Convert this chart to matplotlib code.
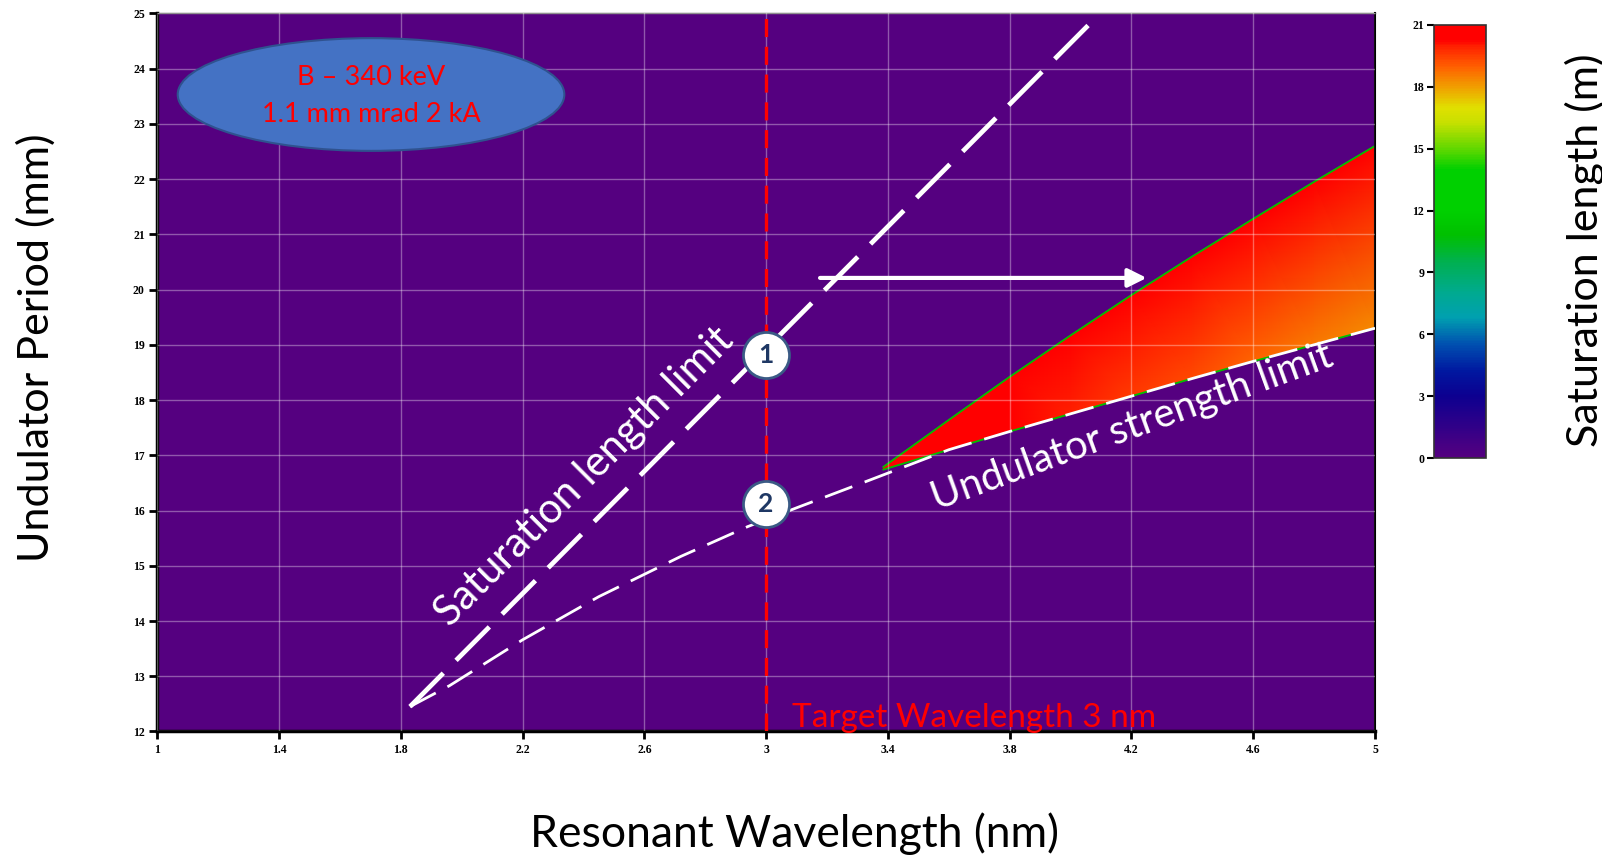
import numpy as np
import matplotlib
matplotlib.use("Agg")
import matplotlib.pyplot as plt
from matplotlib.colors import LinearSegmentedColormap
from matplotlib.patches import Ellipse
from matplotlib.tri import Triangulation
from matplotlib.cm import ScalarMappable
from matplotlib.colors import Normalize

plt.rcParams['font.family'] = ['Lato', 'DejaVu Sans']
plt.rcParams['lines.scale_dashes'] = False

# saturation length colour scale (m)
lsat_levels = [0, 1.5, 3.0, 4.2, 5.5, 6.8, 8.0, 9.5, 10.8, 12, 14, 15, 16.3, 17, 18, 19, 20, 20.3, 21]
lsat_colors = ['#550080', '#300088', '#0c0090', '#0018a0', '#0050b0', '#00a0b0', '#00aa90',
               '#00b050', '#00c000', '#00d000', '#00d000', '#60d800', '#c8e000', '#e0e000',
               '#f0a000', '#ff6000', '#ff2000', '#ff0000', '#ff0000']

# feasible region: wavelength (nm), period bounds (mm), saturation length on each bound (m)
wedge_wl = [3.385, 3.6, 3.8, 4.0, 4.2, 4.4, 4.6, 4.8, 5.0]
wedge_lo = [16.74, 17.1, 17.43, 17.75, 18.07, 18.39, 18.7, 19.0, 19.3]
wedge_hi = [16.79, 17.64, 18.42, 19.17, 19.9, 20.6, 21.28, 21.95, 22.6]
lsat_lo = [21.0, 20.7, 20.3, 20.0, 19.6, 19.3, 18.9, 18.6, 18.3]
lsat_hi = [21.0, 21.0, 21.0, 21.0, 21.0, 21.0, 21.0, 21.0, 21.0]

# limit lines
sat_limit_wl = [1.83, 4.09]
sat_limit_period = [12.45, 24.96]
strength_wl = [1.83, 1.96, 2.2, 2.45, 2.72, 2.94, 3.11, 3.34, 3.6, 3.8, 4.0, 4.2, 4.4, 4.6, 4.8, 5.0]
strength_period = [12.45, 12.83, 13.66, 14.44, 15.17, 15.71, 16.07, 16.55, 17.1, 17.43, 17.75,
                   18.07, 18.39, 18.7, 19.0, 19.3]

target_wl = 3.0
point_wl = [3.0, 3.0]
point_period = [18.82, 16.12]
point_labels = ['1', '2']
shift_start = (3.177, 20.21)
shift_end = (4.25, 20.21)

x_ticks = [1, 1.4, 1.8, 2.2, 2.6, 3, 3.4, 3.8, 4.2, 4.6, 5]
x_ticklabels = ['1', '1.4', '1.8', '2.2', '2.6', '3', '3.4', '3.8', '4.2', '4.6', '5']
y_ticks = list(range(12, 26))
cbar_ticks = [0, 3, 6, 9, 12, 15, 18, 21]

cmap = LinearSegmentedColormap.from_list(
    'lsat', [(v / 21.0, c) for v, c in zip(lsat_levels, lsat_colors)])
norm = Normalize(0, 21)

fig = plt.figure(figsize=(16.02, 8.58), dpi=100)
ax = fig.add_axes([0.0982, 0.14744, 0.76011, 0.83706])
ax.set_facecolor(cmap(0.0))

# shaded field between the two bounds
n = len(wedge_wl)
px = np.array(wedge_wl + wedge_wl)
py = np.array(wedge_lo + wedge_hi)
pv = np.array(lsat_lo + lsat_hi)
tris = []
for i in range(n - 1):
    tris.append([i, i + 1, n + i])
    tris.append([i + 1, n + i + 1, n + i])
tri = Triangulation(px, py, tris)
ax.tripcolor(tri, pv, cmap=cmap, norm=norm, shading='gouraud', zorder=1)
ax.plot(wedge_wl, wedge_hi, color='#00c000', lw=1.3, zorder=1.5)
ax.plot(wedge_wl, wedge_lo, color='#00c000', lw=1.3, zorder=1.5)

ax.set_xlim(1, 5)
ax.set_ylim(12, 25)
ax.set_axisbelow(False)
ax.grid(True, color='white', alpha=0.35, lw=1)

# limit lines
ax.plot(sat_limit_wl, sat_limit_period, color='white', lw=3.4, dashes=(34, 13),
        solid_capstyle='butt', dash_capstyle='butt', zorder=3)
ax.plot(strength_wl, strength_period, color='white', lw=2.0, dashes=(21, 9.5),
        dash_capstyle='butt', zorder=3)
ax.axvline(target_wl, color='#ff0000', lw=2.4, dashes=(13, 7), zorder=3)

ax.annotate('', xy=shift_end, xytext=shift_start,
            arrowprops=dict(arrowstyle='-|>', color='white', lw=3, mutation_scale=28,
                            shrinkA=0, shrinkB=0), zorder=4)

ax.scatter(point_wl, point_period, s=1100, c='white', edgecolors='#3a5a85', linewidths=2,
           zorder=5)
for xw, yp, lab in zip(point_wl, point_period, point_labels):
    ax.text(xw, yp, lab, color='#1f3864', fontsize=19, fontweight='bold',
            ha='center', va='center', zorder=6)

ax.text(2.403, 16.61, 'Saturation length limit', color='white', fontsize=30,
        rotation=45, ha='center', va='center', rotation_mode='anchor', zorder=4)
ax.text(4.202, 17.51, 'Undulator strength limit', color='white', fontsize=29,
        rotation=20, ha='center', va='center', rotation_mode='anchor', zorder=4)
ax.text(3.085, 12.08, 'Target Wavelength 3 nm', color='#ff0000', fontsize=24,
        ha='left', va='baseline', zorder=4)

ax.add_patch(Ellipse((1.702, 23.53), 1.27, 2.04, facecolor='#4472c4', edgecolor='#2f528f',
                     lw=1.5, zorder=4))
ax.text(1.702, 23.835, 'B – 340 keV', color='#ff0000', fontsize=19.5, ha='center',
        va='center', zorder=5)
ax.text(1.702, 23.16, '1.1 mm mrad 2 kA', color='#ff0000', fontsize=19.5, ha='center',
        va='center', zorder=5)

# axes styling
ax.set_xticks(x_ticks)
ax.set_xticklabels(x_ticklabels)
ax.set_yticks(y_ticks)
for lab in ax.get_xticklabels() + ax.get_yticklabels():
    lab.set_family('Liberation Serif')
    lab.set_fontsize(8.5)
    lab.set_fontweight('bold')
ax.tick_params(axis='both', direction='out', length=6, width=2, color='black', pad=3)
ax.spines['left'].set_linewidth(2.5)
ax.spines['bottom'].set_linewidth(2.5)
ax.spines['right'].set_linewidth(1.5)
ax.spines['top'].set_linewidth(1.0)
ax.spines['top'].set_color('#555555')

# colour bar
cax = fig.add_axes([0.8951, 0.4662, 0.03246, 0.5047])
cb = fig.colorbar(ScalarMappable(norm=norm, cmap=cmap), cax=cax, ticks=cbar_ticks)
cax.yaxis.set_ticks_position('left')
cax.tick_params(direction='out', length=5, width=1.5, pad=2)
for lab in cax.get_yticklabels():
    lab.set_family('Liberation Serif')
    lab.set_fontsize(8.5)
    lab.set_fontweight('bold')
cb.outline.set_edgecolor('#333333')
cb.outline.set_linewidth(1.2)

fig.text(36 / 1602, 1 - 348 / 858, 'Undulator Period (mm)', rotation=90, fontsize=31,
         ha='center', va='center')
fig.text(794 / 1602, 1 - 834 / 858, 'Resonant Wavelength (nm)', fontsize=32,
         ha='center', va='center')
fig.text(1565 / 1602, 1 - 250 / 858, 'Saturation length (m)', rotation=90, fontsize=31,
         ha='left', va='center')

fig.savefig('out.png', dpi=100)
